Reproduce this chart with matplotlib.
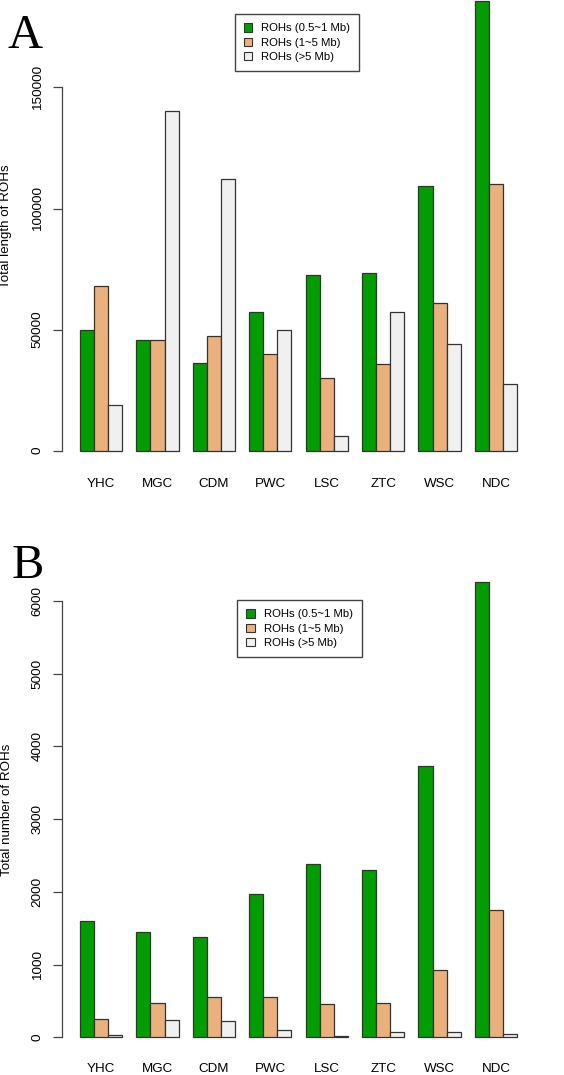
import numpy as np
import matplotlib.pyplot as plt
from matplotlib.patches import Patch

plt.rcParams['font.family'] = ['Liberation Sans', 'DejaVu Sans']

groups = ['YHC', 'MGC', 'CDM', 'PWC', 'LSC', 'ZTC', 'WSC', 'NDC']
series = ['ROHs (0.5~1 Mb)', 'ROHs (1~5 Mb)', 'ROHs (>5 Mb)']

# panel A: total length of ROHs
length_short = [50000, 45700, 36300, 57200, 72500, 73200, 109400, 185700]
length_mid = [68000, 45600, 47500, 40000, 30100, 35800, 61000, 110100]
length_long = [18800, 140400, 112200, 50000, 6000, 57300, 43900, 27500]

# panel B: total number of ROHs
number_short = [1600, 1447, 1380, 1966, 2386, 2295, 3733, 6258]
number_mid = [256, 467, 554, 550, 462, 476, 925, 1754]
number_long = [30, 234, 220, 100, 15, 77, 77, 50]

colors = ['#009E00', '#EBB07B', '#F0F0F0']
edge = '#333333'

W, H = 564, 1075
fig = plt.figure(figsize=(W / 100, H / 100), dpi=100)


def px_axes(left, right, top, bottom):
    return fig.add_axes([left / W, 1 - bottom / H, (right - left) / W, (bottom - top) / H])


def barplot(ax, data, yticks, ylabel, xpad, ymid):
    x0 = np.arange(len(groups)) * 4 + 1
    for j, vals in enumerate(data):
        ax.bar(x0 + j + 0.5, vals, width=1, color=colors[j], edgecolor=edge,
               linewidth=0.9, label=series[j])
    ymax = max(max(v) for v in data)
    ax.set_xlim(1 - 0.04 * 31, 32 + 0.04 * 31)
    ax.set_ylim(-0.04 * ymax, 1.04 * ymax)
    for s in ['top', 'right', 'bottom']:
        ax.spines[s].set_visible(False)
    ax.spines['left'].set_bounds(yticks[0], yticks[-1])
    ax.spines['left'].set_color('#444444')
    ax.spines['left'].set_linewidth(0.9)
    ax.set_yticks(yticks)
    ax.set_yticklabels([str(t) for t in yticks], rotation=90, va='center', fontsize=9.7)
    ax.tick_params(axis='y', direction='out', length=6.5, width=0.9, color='#444444', pad=7)
    ax.set_xticks(x0 + 1.5)
    ax.set_xticklabels(groups, fontsize=9.6)
    ax.tick_params(axis='x', length=0, pad=xpad)
    fig.text(0.5 / W, 1 - ymid / H, ylabel, rotation=90, fontsize=9.6,
             ha='left', va='center')
    ax.patch.set_visible(False)


axA = px_axes(62.5, 534.6, -17, 468.7)
barplot(axA, [length_short, length_mid, length_long], [0, 50000, 100000, 150000],
        'Total length of ROHs', 6.5, 225.8)

axB = px_axes(62.5, 534.6, 563.8, 1055.5)
barplot(axB, [number_short, number_mid, number_long], [0, 1000, 2000, 3000, 4000, 5000, 6000],
        'Total number of ROHs', 5.5, 809.6)

handles = [Patch(facecolor=c, edgecolor=edge, linewidth=0.8) for c in colors]
for anchor in [(234.7, 14.3), (237.3, 600.3)]:
    fig.legend(handles, series, loc='upper left',
               bbox_to_anchor=(anchor[0] / W, 1 - anchor[1] / H),
               bbox_transform=fig.transFigure, borderaxespad=0,
               fontsize=8.2, fancybox=False, framealpha=1, edgecolor='#444444',
               handlelength=0.72, handleheight=0.72, handletextpad=0.8,
               borderpad=0.8, labelspacing=0.38)

fig.text(8 / W, 1 - 48.3 / H, 'A', fontsize=35, family='Liberation Serif',
         ha='left', va='baseline')
fig.text(12 / W, 1 - 577.5 / H, 'B', fontsize=35, family='Liberation Serif',
         ha='left', va='baseline')

fig.savefig('out.png', dpi=100)
